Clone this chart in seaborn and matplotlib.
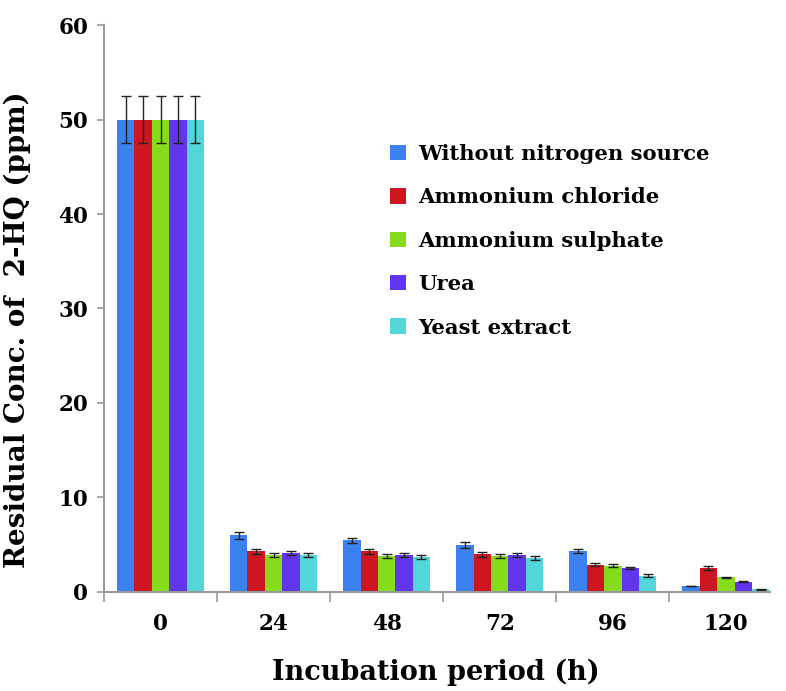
import numpy as np
import pandas as pd
import matplotlib
matplotlib.use('Agg')
import matplotlib.pyplot as plt
import seaborn as sns

# incubation periods (h)
periods = ['0', '24', '48', '72', '96', '120']
sources = ['Without nitrogen source', 'Ammonium chloride', 'Ammonium sulphate',
           'Urea', 'Yeast extract']

# residual concentration of 2-HQ (ppm), one list per nitrogen source
without_n = [50.0, 6.0, 5.45, 4.97, 4.34, 0.63]
amm_chloride = [50.0, 4.3, 4.3, 4.0, 2.9, 2.54]
amm_sulphate = [50.0, 3.9, 3.8, 3.8, 2.8, 1.55]
urea = [50.0, 4.15, 3.9, 3.9, 2.54, 1.1]
yeast = [50.0, 3.9, 3.7, 3.63, 1.73, 0.28]

# error bar half widths
err_without_n = [2.5, 0.35, 0.3, 0.3, 0.25, 0.05]
err_amm_chloride = [2.5, 0.25, 0.25, 0.25, 0.2, 0.2]
err_amm_sulphate = [2.5, 0.2, 0.2, 0.2, 0.2, 0.08]
err_urea = [2.5, 0.22, 0.2, 0.2, 0.15, 0.08]
err_yeast = [2.5, 0.2, 0.2, 0.2, 0.15, 0.05]

colors = ['#3b82f0', '#cc1620', '#86dc1a', '#6236ec', '#52d6da']

values = [without_n, amm_chloride, amm_sulphate, urea, yeast]
errors = [err_without_n, err_amm_chloride, err_amm_sulphate, err_urea, err_yeast]

rows = []
for s, vals, errs in zip(sources, values, errors):
    for p, v, e in zip(periods, vals, errs):
        rows.append({'period': p, 'source': s, 'conc': v, 'err': e})
df = pd.DataFrame(rows)

sns.set_style('white')
plt.rcParams['font.family'] = ['DejaVu Serif']
plt.rcParams['font.weight'] = 'bold'
plt.rcParams['text.color'] = 'black'
plt.rcParams['axes.labelcolor'] = 'black'

fig = plt.figure(figsize=(7.86, 6.91), dpi=100)
ax = fig.add_axes([0.1323, 0.1433, 0.8473, 0.8205])

sns.barplot(data=df, x='period', y='conc', hue='source', order=periods,
            hue_order=sources, palette=colors, width=0.77, errorbar=None,
            saturation=1, linewidth=0, ax=ax)

# error bars at the centres of the drawn bars
for container, errs in zip(ax.containers, errors):
    for bar, e in zip(container, errs):
        cx = bar.get_x() + bar.get_width() / 2
        ax.errorbar(cx, bar.get_height(), yerr=e, fmt='none', ecolor='#222222',
                    elinewidth=1.0, capsize=3.8, capthick=1.0)

ax.set_ylim(0, 60)
ax.set_xlim(-0.5, 5.39)
ax.set_yticks(np.arange(0, 61, 10))
ax.tick_params(axis='y', direction='out', length=5, color='#999999', width=1.2,
               labelsize=15.5, labelcolor='black', pad=6.5, left=True)
ax.tick_params(axis='x', which='major', length=0, labelsize=15.5,
               labelcolor='black', pad=15)
ax.set_xticks(np.arange(-0.5, 5.0, 1.0), minor=True)
ax.tick_params(axis='x', which='minor', direction='out', length=7,
               color='#999999', width=1.2, bottom=True)

for lbl in ax.get_xticklabels() + ax.get_yticklabels():
    lbl.set_fontweight('bold')

sns.despine(ax=ax, top=True, right=True)
for side in ['left', 'bottom']:
    ax.spines[side].set_color('#999999')
    ax.spines[side].set_linewidth(1.5)

ax.set_xlabel('Incubation period (h)', fontsize=19.5, fontweight='bold')
ax.xaxis.set_label_coords(0.499, -0.141)
ax.xaxis.label.set_va('center')
ax.set_ylabel('Residual Conc. of  2-HQ (ppm)', fontsize=20, fontweight='bold')
ax.yaxis.set_label_coords(-0.13, 0.462)
ax.yaxis.label.set_va('center')

leg = ax.legend(loc='upper left', bbox_to_anchor=(0.401, 0.824), frameon=False,
                prop={'size': 15.2, 'weight': 'bold'}, handlelength=0.75,
                handleheight=0.75, handletextpad=0.6, labelspacing=1.11)

fig.savefig('out.png', dpi=100)
